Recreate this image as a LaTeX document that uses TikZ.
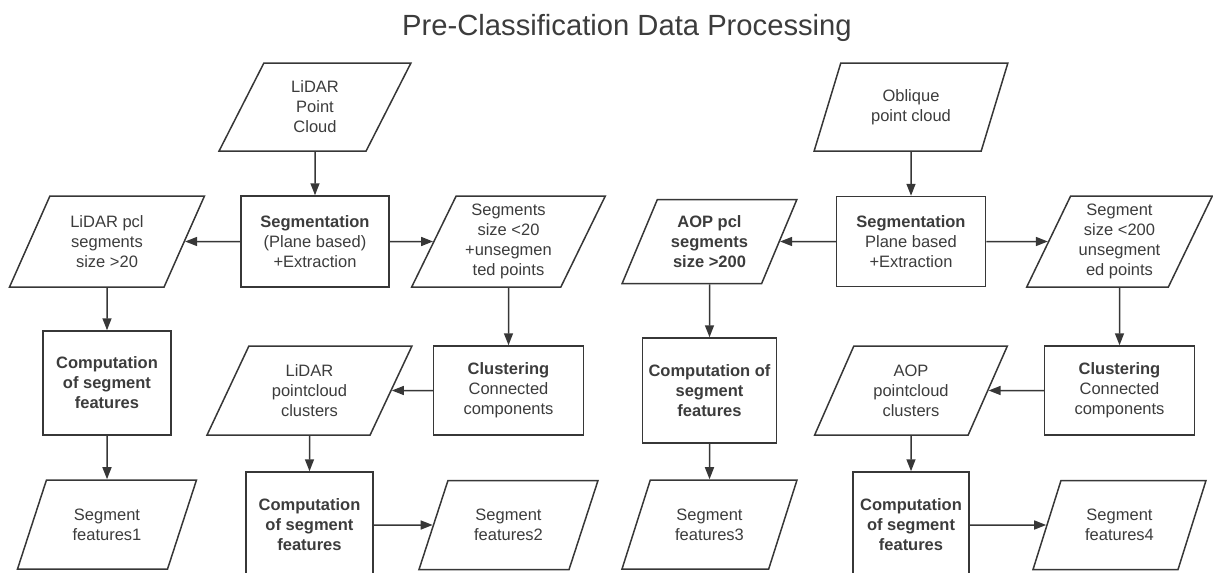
\documentclass[tikz,border=0pt]{standalone}
\usepackage{fontspec}
\setmainfont{Liberation Sans}
\usetikzlibrary{shapes.geometric}
\usetikzlibrary{arrows.meta}
\definecolor{linie}{RGB}{55,55,55}
\definecolor{schrift}{RGB}{60,60,60}

\tikzset{
  datenbox/.style={draw, trapezium, trapezium left angle=64, trapezium right angle=116, trapezium stretches=true, align=center, inner sep=2pt, minimum height=89},
  eingabe/.style={datenbox, trapezium left angle=68, trapezium right angle=112, minimum height=88},
  prozess/.style={draw, rectangle, align=center, inner sep=2pt, minimum height=89},
  pfeil/.style={-{Triangle[length=12pt,width=9pt]}},
}

\begin{document}
\begin{tikzpicture}[x=1pt, y=-1pt, line width=1.5pt, draw=linie, text=schrift, font=\fontsize{16.5}{20}\selectfont]

    \useasboundingbox (0,0) rectangle (1213,573);

    \node[font=\fontsize{29.2}{34}\selectfont, anchor=base] (titel) at (627,35.5) {Pre-Classification Data Processing};

    % LiDAR Seite
    \node[eingabe, minimum width=192] (lpc) at (315,107) {LiDAR\\Point\\Cloud};
    \node[prozess, minimum width=148, minimum height=91] (lseg) at (315,241.5) {\textbf{Segmentation}\\(Plane based)\\+Extraction};
    \node[datenbox, minimum width=195, minimum height=91] (lgross) at (107,241.5) {LiDAR pcl\\segments\\size >20};
    \node[datenbox, minimum width=194, minimum height=91] (lklein) at (508.5,241.5) {Segments\\size <20\\+unsegmen\\ted points};
    \node[prozess, minimum width=128, minimum height=104] (lcomp1) at (107,383) {\textbf{Computation}\\\textbf{of segment}\\\textbf{features}};
    \node[datenbox, minimum width=179] (lfeat1) at (107,524.5) {Segment\\features1};
    \node[prozess, minimum width=150] (lclus) at (508.5,390.5) {\textbf{Clustering}\\Connected\\components};
    \node[datenbox, minimum width=205] (lcluster) at (309.5,390.5) {LiDAR\\pointcloud\\clusters};
    \node[prozess, minimum width=127, minimum height=106] (lcomp2) at (309.5,525) {\textbf{Computation}\\\textbf{of segment}\\\textbf{features}};
    \node[datenbox, minimum width=179] (lfeat2) at (508.5,525) {Segment\\features2};

    % AOP Seite
    \node[eingabe, minimum width=194] (rpc) at (911,107) {Oblique\\point cloud};
    \node[prozess, minimum width=149, minimum height=90] (rseg) at (911,241.5) {\textbf{Segmentation}\\Plane based\\+Extraction};
    \node[datenbox, minimum width=175, minimum height=84] (rgross) at (709.5,241.5) {\textbf{AOP pcl}\\\textbf{segments}\\\textbf{size >200}};
    \node[datenbox, minimum width=186, minimum height=91] (rklein) at (1119.5,241.5) {Segment\\size <200\\unsegment\\ed points};
    \node[prozess, minimum width=134, minimum height=105] (rcomp1) at (709.5,390.5) {\textbf{Computation of}\\\textbf{segment}\\\textbf{features}};
    \node[datenbox, minimum width=175] (rfeat3) at (709.5,524.5) {Segment\\features3};
    \node[prozess, minimum width=150] (rclus) at (1119.5,390.5) {\textbf{Clustering}\\Connected\\components};
    \node[datenbox, minimum width=193] (rcluster) at (911,390.5) {AOP\\pointcloud\\clusters};
    \node[prozess, minimum width=116, minimum height=106] (rcomp2) at (911,525) {\textbf{Computation}\\\textbf{of segment}\\\textbf{features}};
    \node[datenbox, minimum width=173] (rfeat4) at (1119.5,525) {Segment\\features4};

    \draw[pfeil] (lpc.south) -- (lseg.north);
    \draw[pfeil] (lseg.west) -- (lgross.east);
    \draw[pfeil] (lseg.east) -- (lklein.west);
    \draw[pfeil] (lgross.south) -- (lcomp1.north);
    \draw[pfeil] (lcomp1.south) -- (lfeat1.north);
    \draw[pfeil] (lklein.south) -- (lclus.north);
    \draw[pfeil] (lclus.west) -- (lcluster.east);
    \draw[pfeil] (lcluster.south) -- (lcomp2.north);
    \draw[pfeil] (lcomp2.east) -- (lfeat2.west);

    \draw[pfeil] (rpc.south) -- (rseg.north);
    \draw[pfeil] (rseg.west) -- (rgross.east);
    \draw[pfeil] (rseg.east) -- (rklein.west);
    \draw[pfeil] (rgross.south) -- (rcomp1.north);
    \draw[pfeil] (rcomp1.south) -- (rfeat3.north);
    \draw[pfeil] (rklein.south) -- (rclus.north);
    \draw[pfeil] (rclus.west) -- (rcluster.east);
    \draw[pfeil] (rcluster.south) -- (rcomp2.north);
    \draw[pfeil] (rcomp2.east) -- (rfeat4.west);

\end{tikzpicture}
\end{document}
